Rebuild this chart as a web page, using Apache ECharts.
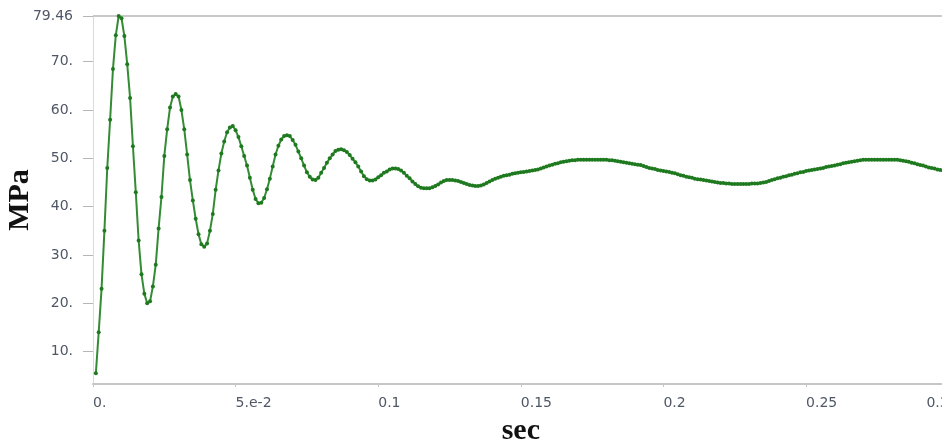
<!DOCTYPE html>
<html><head><meta charset="utf-8">
<script src="https://cdn.jsdelivr.net/npm/echarts@6/dist/echarts.min.js"></script>
<style>html,body{margin:0;padding:0;background:#fff}#c{width:942px;height:444px}</style>
</head><body><div id="c"></div>
<script>
// sampling grid of the signal (seconds)
const T_START = 0.001, T_STEP = 0.001;
// pressure values (MPa), one per sample
const pressure = [
 5.5,14,23,35,48,58,68.5,75.5,79.46,79.0,
 75.3,69.5,62.5,52.5,43,33,26,22,20,20.4,
 23.5,28,35.5,42,50.5,56,60.5,62.8,63.3,62.8,
 60,56,50.8,45.5,41.3,37.5,34.3,32.2,31.7,32.4,
 35,38.5,43.5,47.5,51,53.5,55.4,56.4,56.7,55.8,
 54.4,52.5,50.5,48.5,46,43.5,41.6,40.7,40.8,41.8,
 43.6,45.8,48.3,50.8,52.6,53.9,54.6,54.8,54.6,53.8,
 52.8,51.4,50.0,48.5,47.1,46.2,45.6,45.5,46.0,47.0,
 48.0,49.1,50.0,50.8,51.5,51.8,51.9,51.7,51.3,50.7,
 49.9,49.2,48.3,47.3,46.3,45.7,45.4,45.4,45.6,46.1,
 46.5,47.0,47.3,47.7,47.9,47.9,47.8,47.5,47.0,46.4,
 45.9,45.2,44.7,44.2,43.9,43.8,43.8,43.8,44.0,44.3,
 44.6,45.0,45.3,45.5,45.5,45.5,45.4,45.3,45.1,44.9,
 44.7,44.5,44.4,44.3,44.3,44.4,44.6,44.9,45.2,45.5,
 45.8,46.0,46.2,46.4,46.5,46.6,46.8,46.9,47.0,47.1,
 47.2,47.3,47.4,47.5,47.6,47.7,47.9,48.1,48.3,48.5,
 48.7,48.9,49.0,49.2,49.3,49.4,49.5,49.6,49.6,49.7,
 49.7,49.7,49.7,49.7,49.7,49.7,49.7,49.7,49.7,49.7,
 49.6,49.6,49.5,49.4,49.3,49.2,49.1,49.0,48.9,48.8,
 48.7,48.6,48.4,48.2,48.0,47.9,47.8,47.6,47.5,47.4,
 47.3,47.2,47.0,46.9,46.7,46.5,46.4,46.2,46.1,46.0,
 45.8,45.7,45.6,45.5,45.4,45.3,45.2,45.1,45.0,44.9,
 44.9,44.8,44.8,44.7,44.7,44.7,44.7,44.7,44.7,44.7,
 44.8,44.8,44.8,44.9,45.0,45.1,45.3,45.5,45.7,45.9,
 46.0,46.2,46.3,46.5,46.6,46.8,46.9,47.1,47.2,47.4,
 47.5,47.6,47.7,47.8,47.9,48.0,48.2,48.3,48.4,48.5,
 48.7,48.8,49.0,49.1,49.2,49.3,49.4,49.5,49.6,49.7,
 49.7,49.7,49.7,49.7,49.7,49.7,49.7,49.7,49.7,49.7,
 49.7,49.7,49.6,49.5,49.4,49.3,49.1,49.0,48.8,48.6,
 48.5,48.3,48.1,48.0,47.9,47.7,47.6,47.5
];
const xTicks = [0, 0.05, 0.1, 0.15, 0.2, 0.25, 0.3];
const xTickLabels = ['0.', '5.e-2', '0.1', '0.15', '0.2', '0.25', '0.3'];
const yTicks = [10, 20, 30, 40, 50, 60, 70, 79.46];
const yTickLabels = ['10.', '20.', '30.', '40.', '50.', '60.', '70.', '79.46'];
const yMin = 3.3, yMax = 79.46;

const data = pressure.map((v, i) => [+(T_START + i * T_STEP).toFixed(4), v]);

const labelFont = {fontFamily: 'DejaVu Sans', fontSize: 14, color: '#4f5766'};
const nameFont = {fontFamily: 'Liberation Serif', fontWeight: 'bold', fontSize: 30, color: '#111'};

const chart = echarts.init(document.getElementById('c'), null, {renderer: 'canvas'});
chart.setOption({
  animation: false,
  backgroundColor: '#fff',
  grid: {left: 93, top: 16, bottom: 60, right: -6.7, containLabel: false, outerBoundsMode: 'none'},
  xAxis: {
    type: 'value', min: 0, max: 0.3, interval: 0.05,
    name: 'sec', nameLocation: 'middle', nameGap: 32, nameTextStyle: nameFont, nameMoveOverlap: false,
    axisLine: {show: true, lineStyle: {color: '#c6c6c6', width: 2}},
    axisTick: {show: true, length: 3, lineStyle: {color: '#c6c6c6'}},
    splitLine: {show: false},
    axisLabel: Object.assign({
      margin: 12, align: 'left', alignMaxLabel: 'right',
      formatter: v => { const k = xTicks.findIndex(t => Math.abs(t - v) < 1e-9); return k >= 0 ? xTickLabels[k] : ''; }
    }, labelFont)
  },
  yAxis: {
    type: 'value', min: yMin, max: yMax,
    name: 'MPa', nameLocation: 'middle', nameGap: 58, nameRotate: 90, nameTextStyle: nameFont, nameMoveOverlap: false,
    axisLine: {show: true, lineStyle: {color: '#dadada', width: 1}},
    axisTick: {show: true, length: 10, customValues: yTicks, lineStyle: {color: '#b5b5b5', width: 1}},
    splitLine: {show: false},
    axisLabel: Object.assign({
      margin: 20, customValues: yTicks,
      formatter: v => { const k = yTicks.findIndex(t => Math.abs(t - v) < 1e-9); return k >= 0 ? yTickLabels[k] : ''; }
    }, labelFont)
  },
  series: [{
    type: 'line', data: data, clip: false,
    lineStyle: {color: '#338c33', width: 2},
    itemStyle: {color: '#1f7a1f'},
    symbol: 'circle', symbolSize: 4, showSymbol: true, showAllSymbol: true,
    z: 3,
    markLine: {
      silent: true, symbol: 'none', label: {show: false}, z: 1,
      lineStyle: {color: '#c8c8c8', width: 2, type: 'solid'},
      data: [{yAxis: yMax}]
    }
  }]
});
</script></body></html>
